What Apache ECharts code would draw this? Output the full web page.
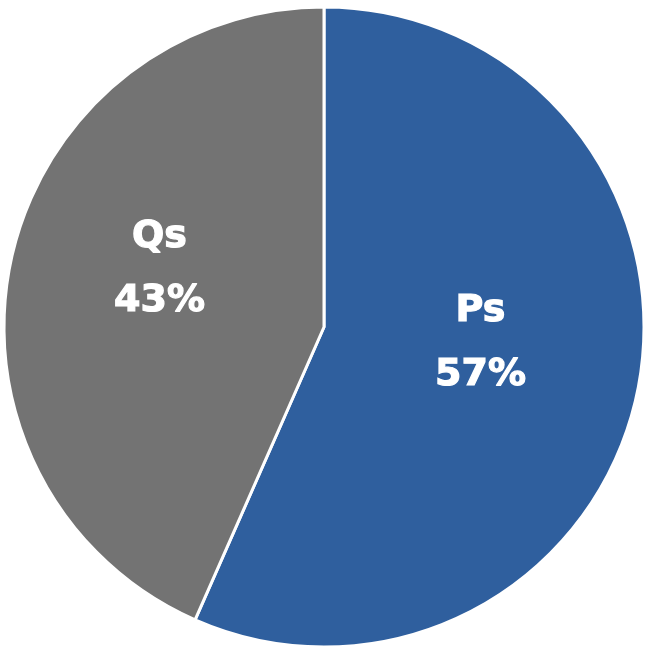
<!DOCTYPE html>
<html>
<head>
<meta charset="utf-8">
<script src="https://cdn.jsdelivr.net/npm/echarts@6/dist/echarts.min.js"></script>
<style>html,body{margin:0;padding:0;background:#fff;}#c{width:648px;height:651px;}</style>
</head>
<body>
<div id="c"></div>
<script>
const categories = ['Ps', 'Qs'];
const values = [56.6, 43.4];
const labels = ['57%', '43%'];
const colors = ['#2F5F9E', '#737373'];
const labelOffsets = [[-3, -17], [-5, -24]];

const chart = echarts.init(document.getElementById('c'), null, {renderer: 'canvas'});
chart.setOption({
  animation: false,
  series: [{
    type: 'pie',
    center: [324, 327],
    radius: [0, 320],
    startAngle: 90,
    clockwise: true,
    itemStyle: {borderColor: '#ffffff', borderWidth: 3},
    label: {
      show: true,
      position: 'inner',
      formatter: p => p.name + '\n' + labels[p.dataIndex],
      color: '#ffffff',
      fontFamily: 'DejaVu Sans',
      fontWeight: 'bold',
      fontSize: 38,
      lineHeight: 64,
      textBorderColor: '#ffffff',
      textBorderWidth: 1.2
    },
    labelLine: {show: false},
    data: categories.map((c, i) => ({
      name: c,
      value: values[i],
      itemStyle: {color: colors[i]},
      label: {offset: labelOffsets[i]}
    }))
  }]
});
</script>
</body>
</html>
